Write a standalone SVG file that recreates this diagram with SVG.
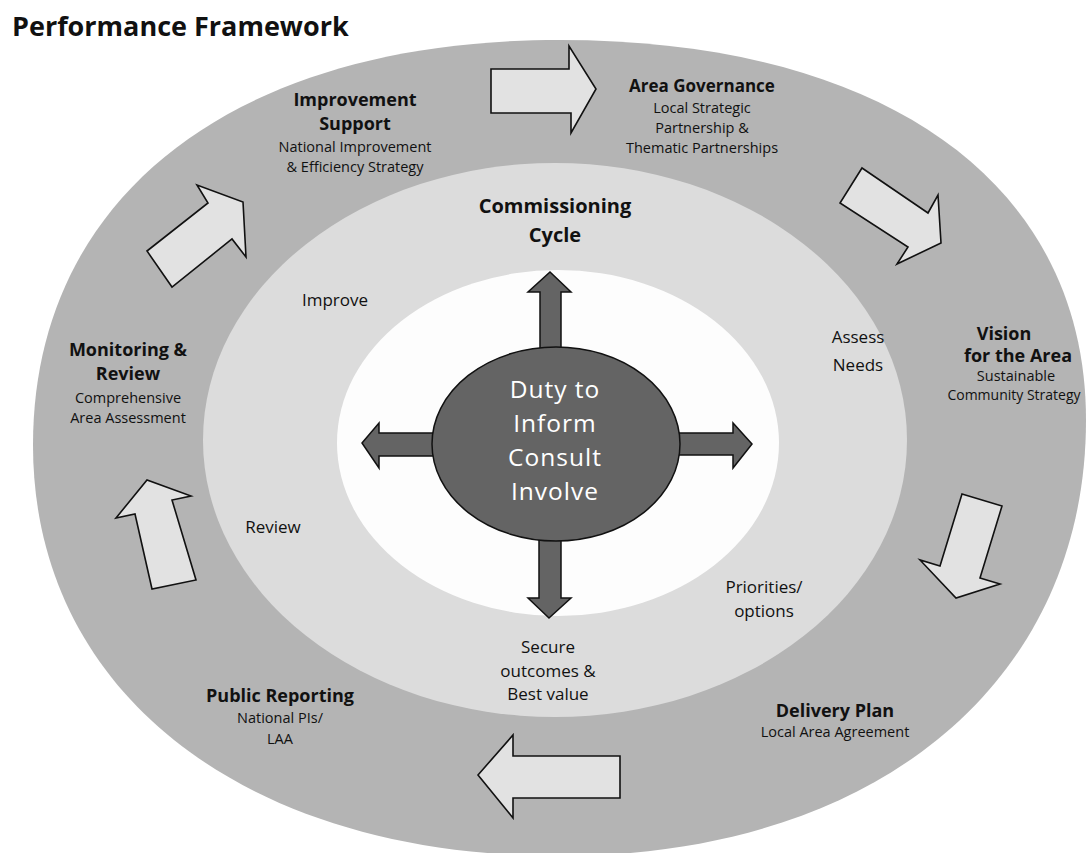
<svg xmlns="http://www.w3.org/2000/svg" width="1091" height="853" viewBox="0 0 1091 853">
<style>
.bg{fill:#ffffff}
.ring{fill:#b4b4b4}
.mid{fill:#dcdcdc}
.inner{fill:#fdfdfd}
.core{fill:#646464;stroke:#111;stroke-width:1.5}
.flow{fill:#e2e2e2;stroke:#111;stroke-width:1.6;stroke-linejoin:miter}
.ray{fill:#646464;stroke:#111;stroke-width:1.5}
text{font-family:"Open Sans","Liberation Sans",sans-serif;fill:#111;text-anchor:middle}
.title{font-size:27px;font-weight:bold;text-anchor:start}
.h{font-size:18px;font-weight:bold}
.hc{font-size:20px;font-weight:bold}
.s{font-size:14.5px}
.c{font-size:17px}
.w{font-size:24.5px;letter-spacing:1px;fill:#ffffff}
</style>
<rect class="bg" x="0" y="0" width="1091" height="853"/>
<g id="outer-ring">
<path class="ring" d="M33,445 C33,197 233,40 560,40 C886,40 1086,184 1086,420 C1086,682 876,856 560,856 C244,856 33,692 33,445 Z"/>
</g>
<g id="commissioning-ring">
<ellipse class="mid" cx="555" cy="440" rx="352" ry="277"/>
</g>
<g id="inner-area">
<ellipse class="inner" cx="558" cy="443" rx="221" ry="173"/>
</g>
<g id="connectors">
<polygon class="flow" points="491,69 569,69 569,46 596,89 571,133 571,113 491,113"/>
<polygon class="flow" points="862,168 928,213 938,195 941,243 897,264 908,247 840,203"/>
<polygon class="flow" points="962,494 1002,506 980,578 1000,584 956,598 920,560 940,566"/>
<polygon class="flow" points="620,756 620,798 513,798 513,818 478,775 513,735 513,756"/>
<polygon class="flow" points="152,589 135,514 116,518 147,480 191,496 172,500 196,580"/>
<polygon class="flow" points="147,251 208,203 197,185 243,202 246,257 232,239 172,287"/>
<polygon class="ray" points="550,272 571,292 561,292 561,350 540,350 540,292 528,292"/>
<polygon class="ray" points="362,443 379,423 379,433 436,433 436,456 379,456 379,468"/>
<polygon class="ray" points="752,444 733,423 733,433 677,433 677,455 733,455 733,468"/>
<polygon class="ray" points="549,618 571,598 561,598 561,538 539,538 539,598 528,598"/>
</g>
<g id="duty">
<ellipse class="core" cx="556" cy="444" rx="124" ry="97"/>
<text class="w" x="555" y="398">Duty to</text>
<text class="w" x="555" y="432">Inform</text>
<text class="w" x="555" y="466">Consult</text>
<text class="w" x="555" y="500">Involve</text>
</g>
<g id="title"><text class="title" x="12" y="36">Performance Framework</text></g>
<g id="improvement-support">
<text class="h" x="355" y="106">Improvement</text>
<text class="h" x="355" y="130">Support</text>
<text class="s" x="355" y="152">National Improvement</text>
<text class="s" x="355" y="172">&amp; Efficiency Strategy</text>
</g>
<g id="area-governance">
<text class="h" x="702" y="92" style="font-size:17px">Area Governance</text>
<text class="s" x="702" y="113">Local Strategic</text>
<text class="s" x="702" y="133">Partnership &amp;</text>
<text class="s" x="702" y="153">Thematic Partnerships</text>
</g>
<g id="vision">
<text class="h" x="1004" y="340">Vision</text>
<text class="h" x="1018" y="362">for the Area</text>
<text class="s" x="1016" y="381">Sustainable</text>
<text class="s" x="1014" y="400" style="font-size:14px">Community Strategy</text>
</g>
<g id="delivery-plan">
<text class="h" x="835" y="717">Delivery Plan</text>
<text class="s" x="835" y="737">Local Area Agreement</text>
</g>
<g id="public-reporting">
<text class="h" x="280" y="702">Public Reporting</text>
<text class="s" x="280" y="723">National PIs/</text>
<text class="s" x="280" y="744">LAA</text>
</g>
<g id="monitoring-review">
<text class="h" x="128" y="356">Monitoring &amp;</text>
<text class="h" x="128" y="380">Review</text>
<text class="s" x="128" y="403">Comprehensive</text>
<text class="s" x="128" y="423">Area Assessment</text>
</g>
<g id="commissioning-cycle">
<text class="hc" x="555" y="213">Commissioning</text>
<text class="hc" x="555" y="242">Cycle</text>
</g>
<g id="stage-improve"><text class="c" x="335" y="306">Improve</text></g>
<g id="stage-assess"><text class="c" x="858" y="343">Assess</text><text class="c" x="858" y="371">Needs</text></g>
<g id="stage-priorities"><text class="c" x="764" y="593">Priorities/</text><text class="c" x="764" y="617">options</text></g>
<g id="stage-secure"><text class="c" x="548" y="653">Secure</text><text class="c" x="548" y="677">outcomes &amp;</text><text class="c" x="548" y="700">Best value</text></g>
<g id="stage-review"><text class="c" x="273" y="533">Review</text></g>
</svg>
